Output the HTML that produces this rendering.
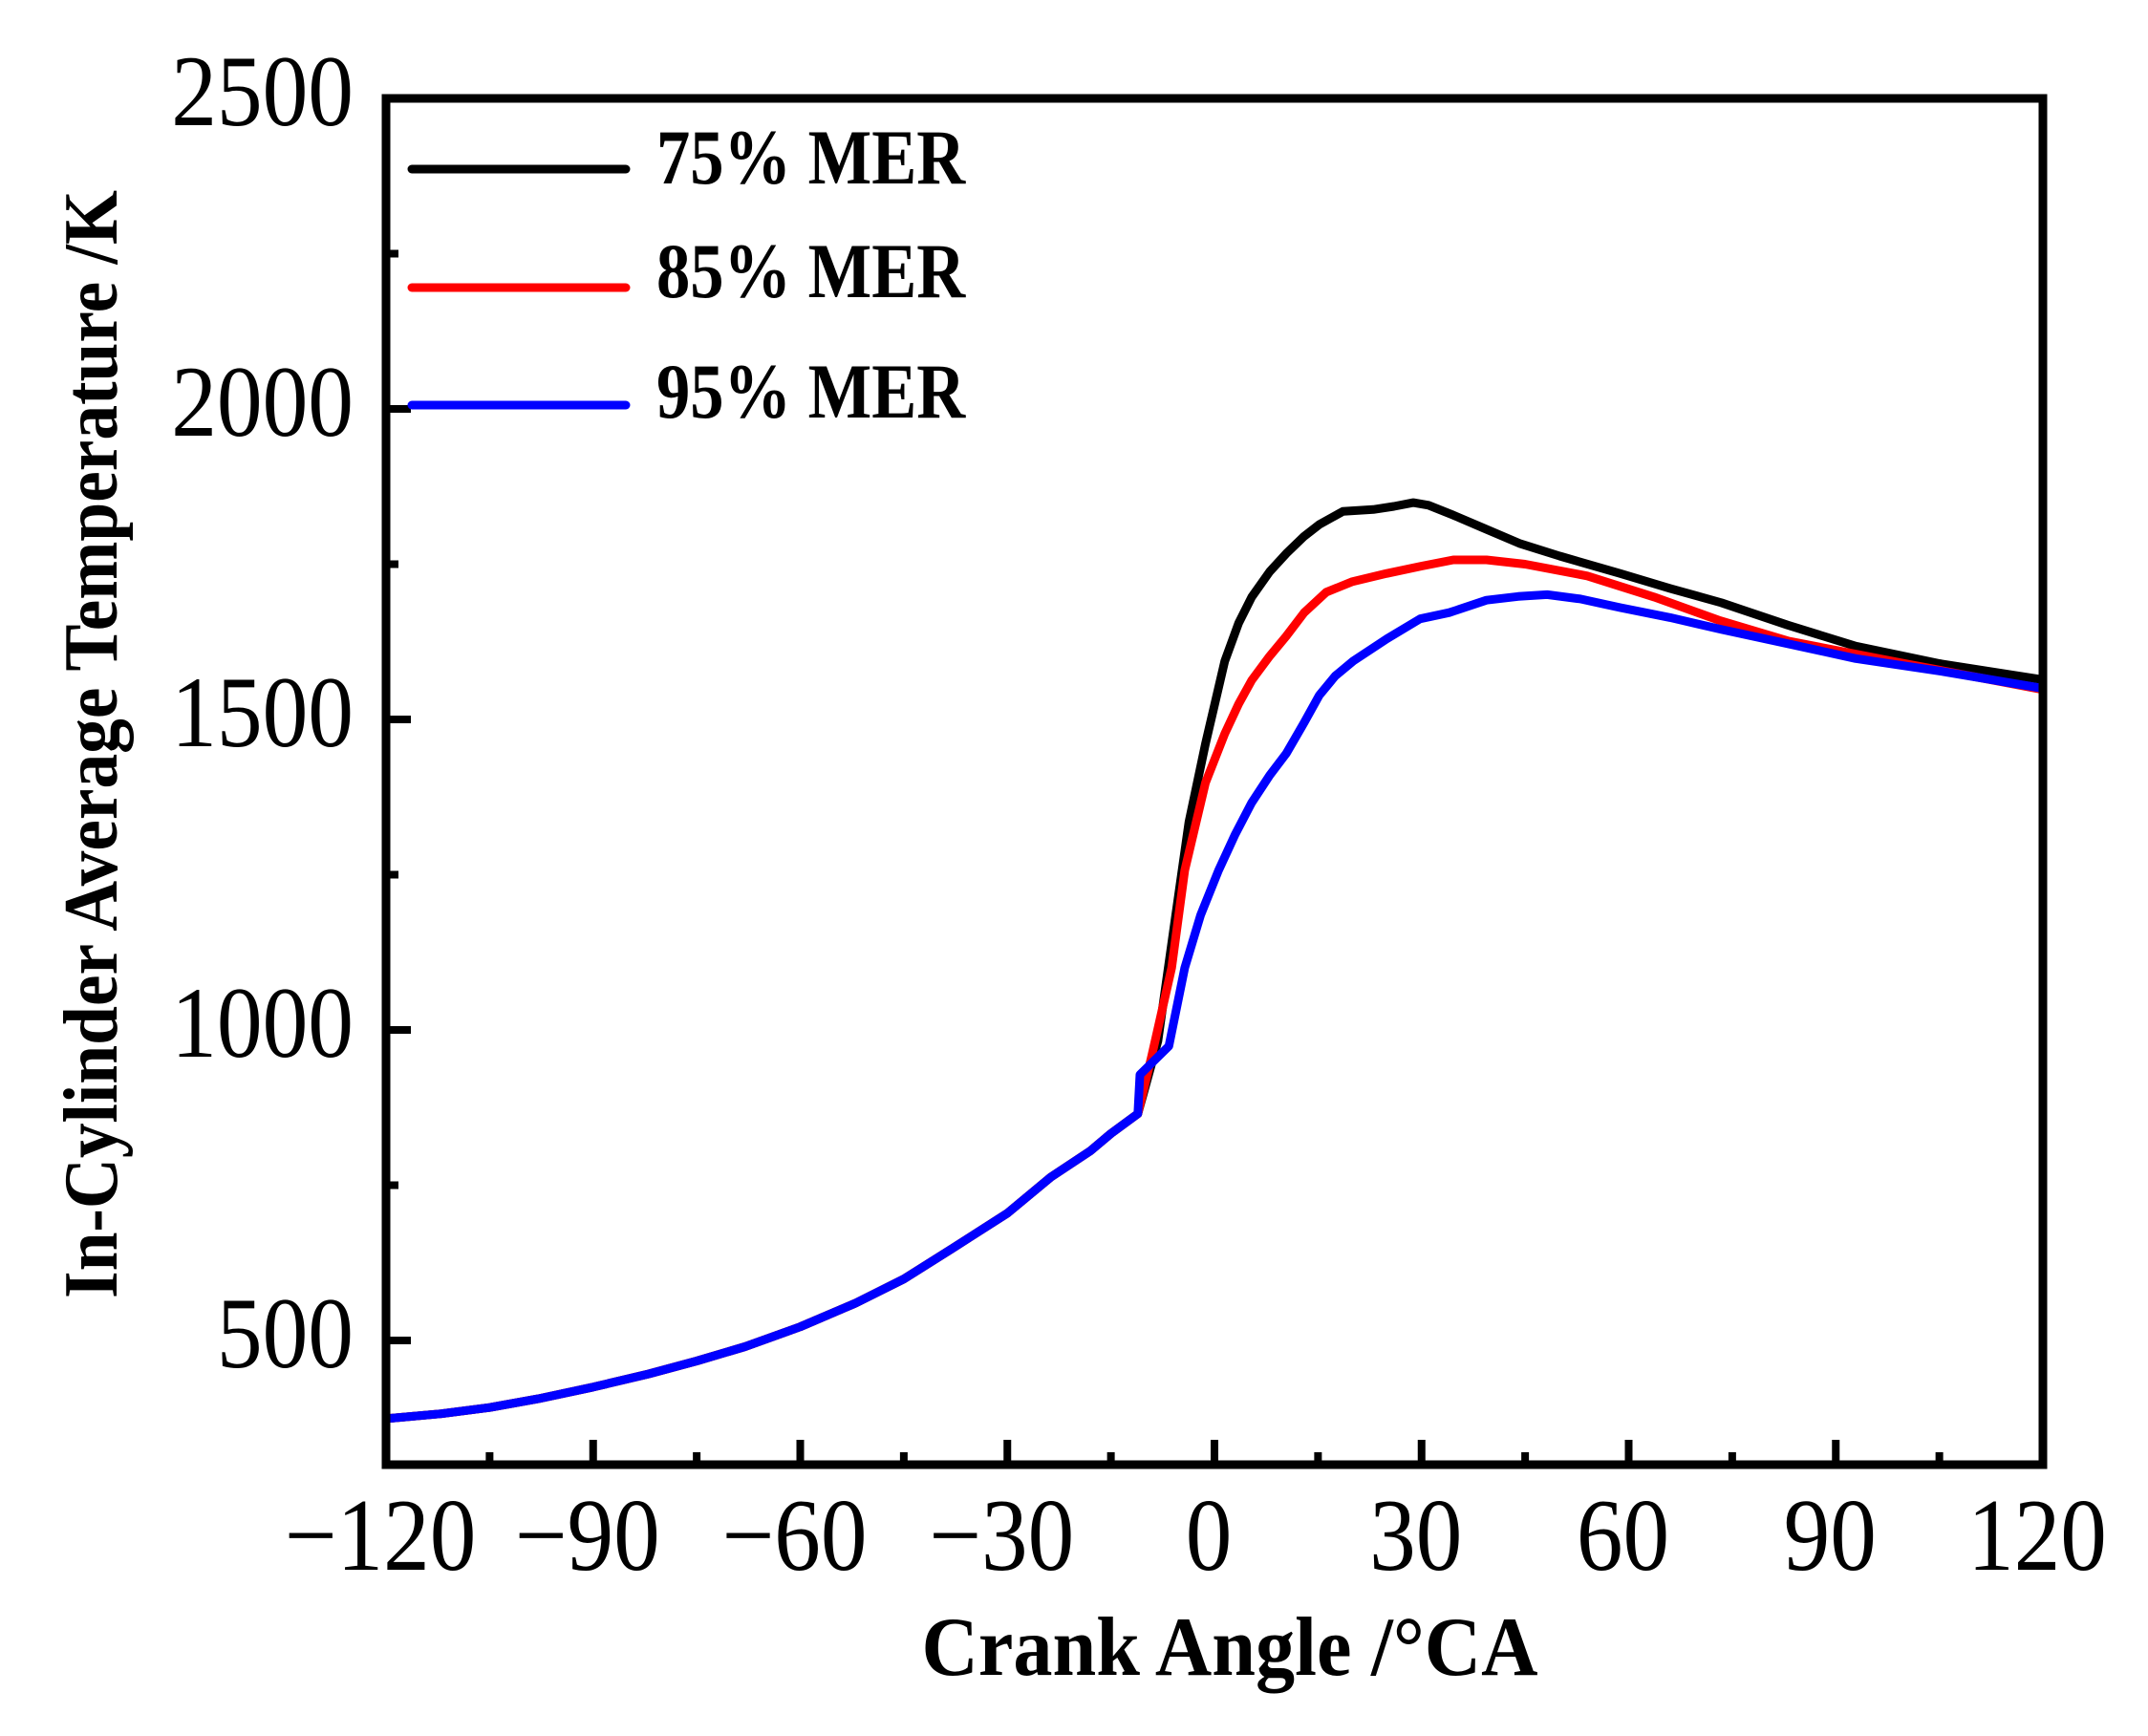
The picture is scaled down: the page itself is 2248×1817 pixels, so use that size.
<!DOCTYPE html>
<html><head><meta charset="utf-8"><style>
html,body{margin:0;padding:0;background:#fff;}
svg{display:block;}
text{font-family:"Liberation Serif","Times New Roman",serif;fill:#000;}
</style></head><body>
<svg id="chart" width="2248" height="1817" viewBox="0 0 2248 1817" xmlns="http://www.w3.org/2000/svg">
<rect width="2248" height="1817" fill="#fff"/>
<g id="series"></g>
<g id="axes"></g>
<g>
  <line x1="431" y1="177" x2="655" y2="177" stroke="#000" stroke-width="9" stroke-linecap="round"/>
  <text transform="translate(687,192) scale(0.86,1)" font-size="82" font-weight="bold">75% MER</text>
  <line x1="431" y1="301" x2="655" y2="301" stroke="#ff0000" stroke-width="9" stroke-linecap="round"/>
  <text transform="translate(687,311) scale(0.86,1)" font-size="82" font-weight="bold">85% MER</text>
  <line x1="431" y1="424" x2="655" y2="424" stroke="#0000ff" stroke-width="9" stroke-linecap="round"/>
  <text transform="translate(687,437) scale(0.86,1)" font-size="82" font-weight="bold">95% MER</text>
</g>
<text x="1287" y="1753" font-size="88" font-weight="bold" text-anchor="middle" textLength="645" lengthAdjust="spacingAndGlyphs">Crank Angle /°CA</text>
<text transform="translate(122,779) rotate(-90)" font-size="80" font-weight="bold" text-anchor="middle" textLength="1160" lengthAdjust="spacingAndGlyphs">In-Cylinder Average Temperature /K</text>
</svg>
<script>
const xTicks = [-120, -90, -60, -30, 0, 30, 60, 90, 120];
const xMinor = [-105, -75, -45, -15, 15, 45, 75, 105];
const yTicks = [500, 1000, 1500, 2000, 2500];
const yMinor = [750, 1250, 1750, 2250];
const compAngle = [-120, -112, -105, -98, -90, -82, -75, -68, -60, -52, -45, -38, -30, -23.7, -18, -15, -11.1];
const compTemp  = [374, 382, 392, 406, 425, 446, 467, 490, 522, 560, 599, 648, 705, 763, 805, 833, 865];
const angle75 = [-8.2, -5.7, -3.7, -1.3, 1.5, 3.5, 5.4, 8, 10.4, 13, 15.2, 18.6, 23, 26, 28.8, 31, 34.6, 39, 44.3, 50, 58.8, 66, 73.4, 83, 92.9, 105, 120];
const temp75  = [982, 1178, 1335, 1461, 1594, 1655, 1697, 1738, 1767, 1795, 1814, 1835, 1838, 1843, 1849, 1845, 1829, 1808, 1783, 1763, 1735, 1711, 1688, 1652, 1618, 1590, 1564];
const angle85 = [-9.1, -6.2, -4.3, -1.3, 1.5, 3.5, 5.4, 8, 10.4, 13, 16.2, 20, 24.9, 30, 34.6, 39.4, 45, 54, 63.7, 73, 83.2, 100, 120];
const temp85  = [958, 1100, 1257, 1398, 1477, 1525, 1563, 1602, 1634, 1672, 1705, 1722, 1735, 1747, 1757, 1757, 1750, 1731, 1697, 1660, 1626, 1590, 1548];
const angle95 = [-10.8, -6.6, -4.3, -2, 0.6, 3, 5.4, 8, 10.4, 13, 15.2, 17.5, 20.1, 25, 29.8, 34, 39.4, 44, 48.2, 53, 58.8, 66, 73.4, 83, 92.9, 105, 120];
const temp95  = [928, 974, 1100, 1185, 1257, 1315, 1366, 1410, 1445, 1495, 1539, 1570, 1594, 1630, 1662, 1672, 1692, 1698, 1701, 1694, 1680, 1664, 1645, 1622, 1598, 1578, 1550];

const X0 = 404, X1 = 2138, Y0 = 1533, Y1 = 103;
const xMin = -120, xMax = 120, yMin = 300, yMax = 2500;
function sx(v){ return X0 + (v - xMin) / (xMax - xMin) * (X1 - X0); }
function sy(v){ return Y0 - (v - yMin) / (yMax - yMin) * (Y0 - Y1); }
const NS = "http://www.w3.org/2000/svg";
function mk(tag, attrs, parent){ const e = document.createElementNS(NS, tag); for (const k in attrs) e.setAttribute(k, attrs[k]); parent.appendChild(e); return e; }

const series = document.getElementById('series');
const defs = [
  {a: angle75, t: temp75, c: '#000000', n: 'line-75-mer'},
  {a: angle85, t: temp85, c: '#ff0000', n: 'line-85-mer'},
  {a: angle95, t: temp95, c: '#0000ff', n: 'line-95-mer'}
];
defs.forEach(d => {
  const xs = compAngle.concat(d.a), ys = compTemp.concat(d.t);
  const pts = xs.map((x, i) => sx(x).toFixed(1) + ',' + sy(ys[i]).toFixed(1)).join(' ');
  const p = mk('polyline', {points: pts, fill: 'none', stroke: d.c, 'stroke-width': 9, 'stroke-linejoin': 'round'}, series);
  
  
});

const axes = document.getElementById('axes');
const frame = mk('rect', {x: X0, y: Y1, width: X1 - X0, height: Y0 - Y1, fill: 'none', stroke: '#000', 'stroke-width': 9}, axes);


xTicks.forEach(v => {
  const t = mk('line', {x1: sx(v), x2: sx(v), y1: Y0, y2: Y0 - 26, stroke: '#000', 'stroke-width': 8}, axes);
  
  
  const l = mk('text', {transform: 'translate(' + (sx(v) - 6) + ',1643) scale(0.9,1)', 'font-size': 108, 'text-anchor': 'middle'}, axes);
  l.textContent = v < 0 ? '\u2212' + Math.abs(v) : String(v);
  
  
});
xMinor.forEach(v => {
  const t = mk('line', {x1: sx(v), x2: sx(v), y1: Y0, y2: Y0 - 13, stroke: '#000', 'stroke-width': 8}, axes);
  
  
});
yTicks.forEach(v => {
  const t = mk('line', {x1: X0, x2: X0 + 26, y1: sy(v), y2: sy(v), stroke: '#000', 'stroke-width': 8}, axes);
  
  
  const l = mk('text', {transform: 'translate(370,' + (sy(v) + 28) + ') scale(0.9,1)', 'font-size': 106, 'text-anchor': 'end'}, axes);
  l.textContent = String(v);
  
  
});
yMinor.forEach(v => {
  const t = mk('line', {x1: X0, x2: X0 + 13, y1: sy(v), y2: sy(v), stroke: '#000', 'stroke-width': 8}, axes);
  
  
});
</script>
</body></html>
